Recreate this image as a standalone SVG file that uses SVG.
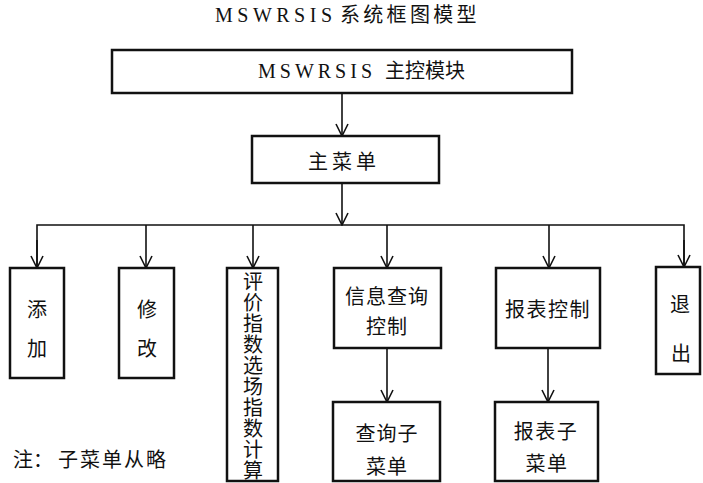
<svg xmlns="http://www.w3.org/2000/svg" width="703" height="483" viewBox="0 0 703 483">
<style>
.box{fill:#fff;stroke:#111;stroke-width:2.5}
.con{fill:none;stroke:#111;stroke-width:1.6}
.t{font-family:"Noto Sans CJK SC","Noto Sans",sans-serif;font-size:20px;fill:#111}
.lat{font-family:"Liberation Serif",serif;font-size:20px;fill:#111}
</style>
<defs>
<marker id="ah" viewBox="0 0 14 14" refX="13" refY="7" markerWidth="14" markerHeight="14" markerUnits="userSpaceOnUse" orient="auto">
<path d="M1,1 L13,7 L1,13" fill="none" stroke="#111" stroke-width="1.6"/>
</marker>
</defs>
<rect width="703" height="483" fill="#fff"/>
<g id="title">
<text x="215" y="22"><tspan class="lat" letter-spacing="4.5">MSWRSIS</tspan><tspan class="t" font-size="18" letter-spacing="3.3" x="340">系统框图模型</tspan></text>
</g>
<g id="connectors">
<line class="con" x1="342" y1="93" x2="342" y2="136" marker-end="url(#ah)"/>
<line class="con" x1="342" y1="183" x2="342" y2="225" marker-end="url(#ah)"/>
<polyline class="con" points="37,268 37,225 684,225 684,267"/>
<line class="con" x1="37" y1="240" x2="37" y2="268" marker-end="url(#ah)"/>
<line class="con" x1="684" y1="240" x2="684" y2="267" marker-end="url(#ah)"/>
<line class="con" x1="146" y1="225" x2="146" y2="268" marker-end="url(#ah)"/>
<line class="con" x1="253" y1="225" x2="253" y2="268" marker-end="url(#ah)"/>
<line class="con" x1="387" y1="225" x2="387" y2="268" marker-end="url(#ah)"/>
<line class="con" x1="549" y1="225" x2="549" y2="268" marker-end="url(#ah)"/>
<line class="con" x1="387" y1="348" x2="387" y2="402" marker-end="url(#ah)"/>
<line class="con" x1="548" y1="348" x2="548" y2="402" marker-end="url(#ah)"/>
</g>
<g id="main">
<rect class="box" x="112" y="50" width="460" height="43"/>
<text x="258" y="78"><tspan class="lat" letter-spacing="4">MSWRSIS</tspan><tspan class="t" x="385">主控模块</tspan></text>
</g>
<g id="menu">
<rect class="box" x="252" y="136" width="187" height="47"/>
<text class="t" x="308" y="160" dominant-baseline="central" letter-spacing="4">主菜单</text>
</g>
<g id="add">
<rect class="box" x="10" y="268" width="54" height="110"/>
<text class="t" x="37" y="308" text-anchor="middle" dominant-baseline="central">添</text>
<text class="t" x="37" y="347" text-anchor="middle" dominant-baseline="central">加</text>
</g>
<g id="modify">
<rect class="box" x="119" y="268" width="55" height="110"/>
<text class="t" x="147" y="308" text-anchor="middle" dominant-baseline="central">修</text>
<text class="t" x="147" y="347" text-anchor="middle" dominant-baseline="central">改</text>
</g>
<g id="calc">
<rect class="box" x="227" y="268" width="51" height="213"/>
<text class="t" x="253" y="271" writing-mode="vertical-rl" style="writing-mode:vertical-rl" letter-spacing="1">评价指数选场指数计算</text>
</g>
<g id="query">
<rect class="box" x="334" y="268" width="107" height="80"/>
<text class="t" x="387" y="295" text-anchor="middle" dominant-baseline="central" letter-spacing="1">信息查询</text>
<text class="t" x="387" y="325" text-anchor="middle" dominant-baseline="central" letter-spacing="1">控制</text>
</g>
<g id="querysub">
<rect class="box" x="333" y="402" width="107" height="79"/>
<text class="t" x="387" y="432" text-anchor="middle" dominant-baseline="central" letter-spacing="1">查询子</text>
<text class="t" x="387" y="465" text-anchor="middle" dominant-baseline="central" letter-spacing="1">菜单</text>
</g>
<g id="report">
<rect class="box" x="496" y="268" width="104" height="80"/>
<text class="t" x="548" y="308" text-anchor="middle" dominant-baseline="central" letter-spacing="1.5">报表控制</text>
</g>
<g id="reportsub">
<rect class="box" x="495" y="402" width="103" height="79"/>
<text class="t" x="546" y="430" text-anchor="middle" dominant-baseline="central" letter-spacing="1.5">报表子</text>
<text class="t" x="547" y="462" text-anchor="middle" dominant-baseline="central" letter-spacing="1.5">菜单</text>
</g>
<g id="exit">
<rect class="box" x="656" y="267" width="44" height="107"/>
<text class="t" x="680" y="303" text-anchor="middle" dominant-baseline="central">退</text>
<text class="t" x="681" y="352" text-anchor="middle" dominant-baseline="central">出</text>
</g>
<g id="note">
<text class="t" x="13" y="458" font-size="19" dominant-baseline="central">注：<tspan x="58" letter-spacing="2">子菜单从略</tspan></text>
</g>
</svg>
